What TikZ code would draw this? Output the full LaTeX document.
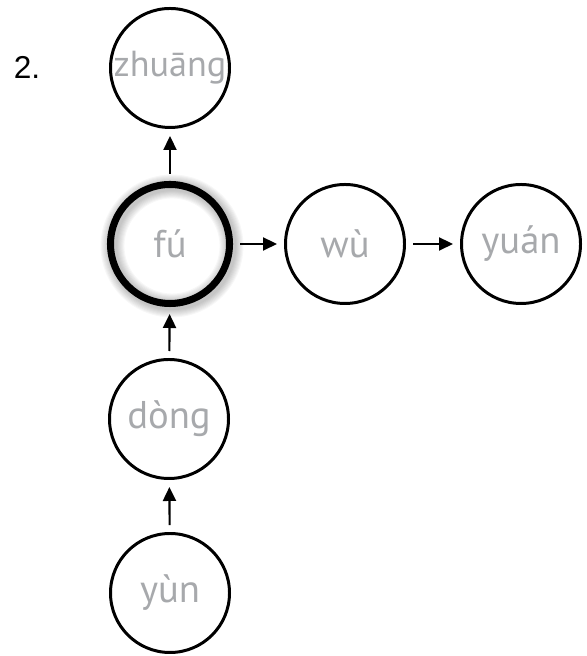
\documentclass[tikz,border=0pt]{standalone}
\usepackage{fontspec}
\setmainfont{Liberation Sans}
\newfontfamily\pinyinfont{PT Sans}
\usetikzlibrary{arrows.meta}
\definecolor{pinyingris}{RGB}{167,169,172}

\begin{document}
\begin{tikzpicture}[
		% Estilo para cada silaba: circulo vacio con texto gris
		silaba/.style={circle, draw, line width=0.85pt, minimum size=1.19cm, inner sep=0pt,
			font=\pinyinfont\fontsize{11}{13}\selectfont, text=pinyingris},
		% La silaba activa lleva el borde mas grueso
		activa/.style={silaba, line width=2pt},
		flecha/.style={-{Triangle[length=1.4mm, width=1.3mm]}, line width=0.6pt,
			shorten <=0.07cm, shorten >=0.07cm}
	]
	\useasboundingbox (0,0) rectangle (5.87,6.56);

	% --- 1. Sombra difusa del circulo activo ---
	\foreach \i in {1,...,8}
		\draw[black, opacity=0.03, line width=2pt+\i*0.6pt] (1.72,4.10) circle (0.595);

	% --- 2. Nodos ---
	\node (num) at (0.27,5.89) {\fontsize{9}{11}\selectfont 2.};

	% zhuāng casi toca el borde, va un poco mas pequeno
	\node[silaba, font=\pinyinfont\fontsize{10.3}{12}\selectfont] (zhuang) at (1.70,5.88) {zhuāng};
	\node[activa] (fu)     at (1.70,4.12) {fú};
	\node[silaba] (wu)     at (3.45,4.12) {wù};
	\node[silaba] (yuan)   at (5.21,4.12) {yuán};
	\node[silaba] (dong)   at (1.69,2.37) {dòng};
	\node[silaba] (yun)    at (1.70,0.63) {yùn};

	% --- 3. Flechas ---
	\draw[flecha] (fu) -- (zhuang);
	\draw[flecha] (fu) -- (wu);
	\draw[flecha] (wu) -- (yuan);
	\draw[flecha] (dong) -- (fu);
	\draw[flecha] (yun) -- (dong);

\end{tikzpicture}
\end{document}
